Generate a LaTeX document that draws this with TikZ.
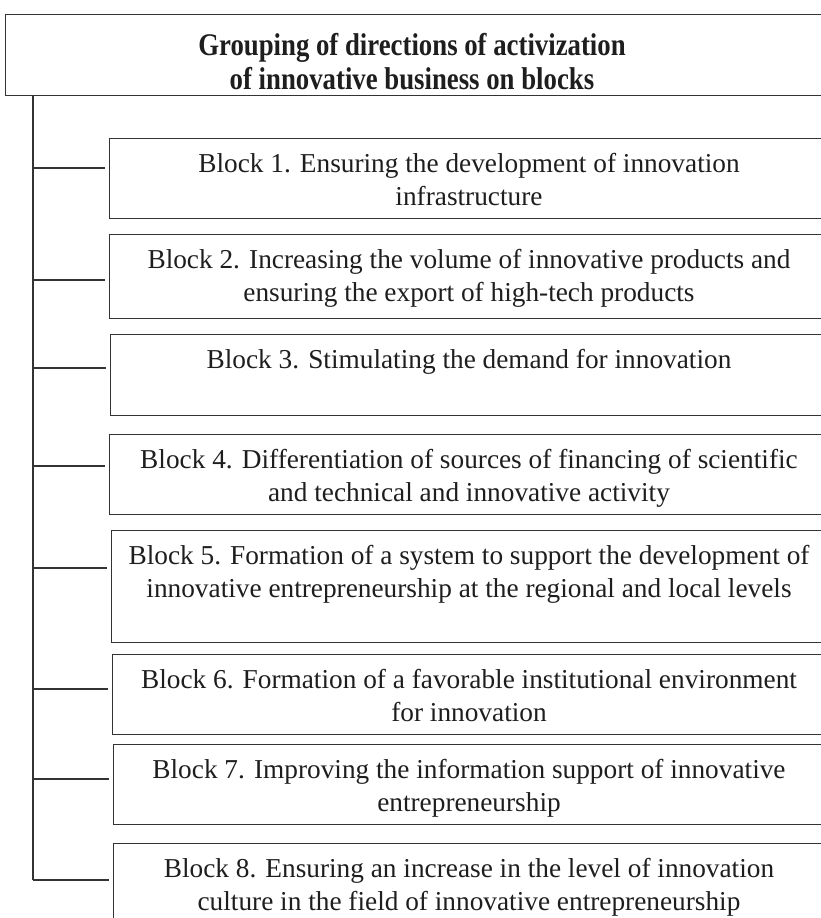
\documentclass[tikz,border=0pt]{standalone}
\usepackage{fontspec}
\setmainfont{Liberation Serif}
\newfontfamily\headfont[FakeStretch=0.85]{Liberation Serif}
\usetikzlibrary{calc}
\definecolor{linec}{HTML}{333333}
\definecolor{txtc}{HTML}{1E1E1E}
\tikzset{
  boxline/.style={draw=linec, line width=1.3pt},
  blockbox/.style={boxline, rectangle, anchor=north west, inner sep=0pt, minimum width=725pt},
  blocktext/.style={anchor=north, inner sep=0pt, align=center, text=txtc, font=\fontsize{27.3}{33}\selectfont},
  headtext/.style={anchor=north, inner sep=0pt, align=center, text=txtc, font=\headfont\bfseries\fontsize{31.5}{34}\selectfont},
  branch/.style={draw=linec, line width=1.3pt, shorten >=4pt},
}
\begin{document}
\begin{tikzpicture}[x=1pt,y=-1pt]
\useasboundingbox (0,0) rectangle (821,918);
\fill[white] (0,0) rectangle (821,918);
\clip (0,0) rectangle (821,918);
% header
\node[boxline, rectangle, anchor=north west, minimum width=840pt, minimum height=81pt, inner sep=0pt] (head) at (5,14) {};
\node[headtext] (htitle) at (412,33) {Grouping of directions of activization\\of innovative business on blocks};
% blocks
\node[blockbox, minimum height=80pt]  (b1) at (109,138) {};
\node[blockbox, minimum height=84pt]  (b2) at (109,234) {};
\node[blockbox, minimum height=81pt]  (b3) at (110,334) {};
\node[blockbox, minimum height=80pt]  (b4) at (109,434) {};
\node[blockbox, minimum height=112pt] (b5) at (111,530) {};
\node[blockbox, minimum height=80pt]  (b6) at (112,654) {};
\node[blockbox, minimum height=80pt]  (b7) at (113,744) {};
\node[blockbox, minimum height=100pt] (b8) at (113,843) {};
\node[blocktext] (t1) at (469,153) {Block 1. Ensuring the development of innovation\\infrastructure};
\node[blocktext] (t2) at (469,249) {Block 2. Increasing the volume of innovative products and\\ensuring the export of high-tech products};
\node[blocktext] (t3) at (469,349) {Block 3. Stimulating the demand for innovation};
\node[blocktext] (t4) at (469,449) {Block 4. Differentiation of sources of financing of scientific\\and technical and innovative activity};
\node[blocktext] (t5) at (469,545) {Block 5. Formation of a system to support the development of\\innovative entrepreneurship at the regional and local levels};
\node[blocktext] (t6) at (469,669) {Block 6. Formation of a favorable institutional environment\\for innovation};
\node[blocktext] (t7) at (469,759) {Block 7. Improving the information support of innovative\\entrepreneurship};
\node[blocktext] (t8) at (469,858) {Block 8. Ensuring an increase in the level of innovation\\culture in the field of innovative entrepreneurship};
% spine
\coordinate (s0) at (33,95);
\coordinate (c1) at (33,168);
\coordinate (c2) at (33,280);
\coordinate (c3) at (33,368);
\coordinate (c4) at (33,466);
\coordinate (c5) at (33,568);
\coordinate (c6) at (33,689);
\coordinate (c7) at (33,779);
\coordinate (c8) at (33,880);
\draw[boxline] (s0) -- (c8);
\foreach \i in {1,...,8}{
  \draw[branch] (c\i) -- (c\i -| b\i.west);
}
\end{tikzpicture}
\end{document}
